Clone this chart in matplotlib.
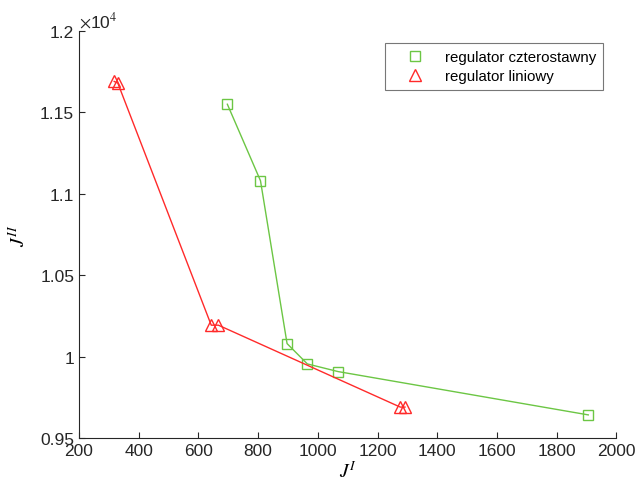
import matplotlib
matplotlib.use('Agg')
import matplotlib.pyplot as plt
from matplotlib.ticker import FuncFormatter

# data
cz_x = [697, 808, 897, 965, 1068, 1906]
cz_y = [11550, 11080, 10080, 9955, 9908, 9642]
lin_x = [318, 330, 643, 667, 1276, 1292]
lin_y = [11690, 11680, 10193, 10193, 9690, 9690]

green = '#6cc644'
red = '#ff2a2a'

plt.rcParams['font.family'] = ['Liberation Sans', 'DejaVu Sans']
plt.rcParams['mathtext.fontset'] = 'stix'

fig = plt.figure(figsize=(6.35, 4.81), dpi=100)
ax = fig.add_axes([0.1244, 0.0873, 0.8462, 0.8462])

ax.plot(cz_x, cz_y, '-', color=green, lw=1)
ax.plot(cz_x, cz_y, 's', color=green, mfc='none', ms=7, mew=1,
        label='regulator czterostawny')
ax.plot(lin_x, lin_y, '-', color=red, lw=1)
ax.plot(lin_x, lin_y, '^', color=red, mfc='none', ms=9, mew=1,
        label='regulator liniowy')

ax.set_xlim(200, 2000)
ax.set_ylim(9500, 12000)
ax.set_xticks(range(200, 2001, 200))
ax.set_yticks([9500, 10000, 10500, 11000, 11500, 12000])
ax.yaxis.set_major_formatter(FuncFormatter(lambda v, p: '%g' % (v / 1e4)))
ax.tick_params(direction='in', labelsize=12.5, length=4, colors='#262626')
for s in ['top', 'right']:
    ax.spines[s].set_visible(False)
for s in ['left', 'bottom']:
    ax.spines[s].set_color('#262626')

ax.text(0.0, 1.003, r'$\times$10$^4$', transform=ax.transAxes, fontsize=12.5,
        color='#262626', va='bottom', ha='left')

ax.set_xlabel(r'$J^{I}$', fontsize=14, labelpad=2)
ax.set_ylabel(r'$J^{II}$', fontsize=14, labelpad=8)

leg = ax.legend(loc='upper right', bbox_to_anchor=(0.976, 0.9705),
                borderaxespad=0, fontsize=10.8, frameon=True, fancybox=False,
                edgecolor='#555555', borderpad=0.5, handlelength=3.1,
                handletextpad=0.4, labelspacing=0.3)
leg.get_frame().set_linewidth(0.8)

fig.savefig('out.png', dpi=100)
